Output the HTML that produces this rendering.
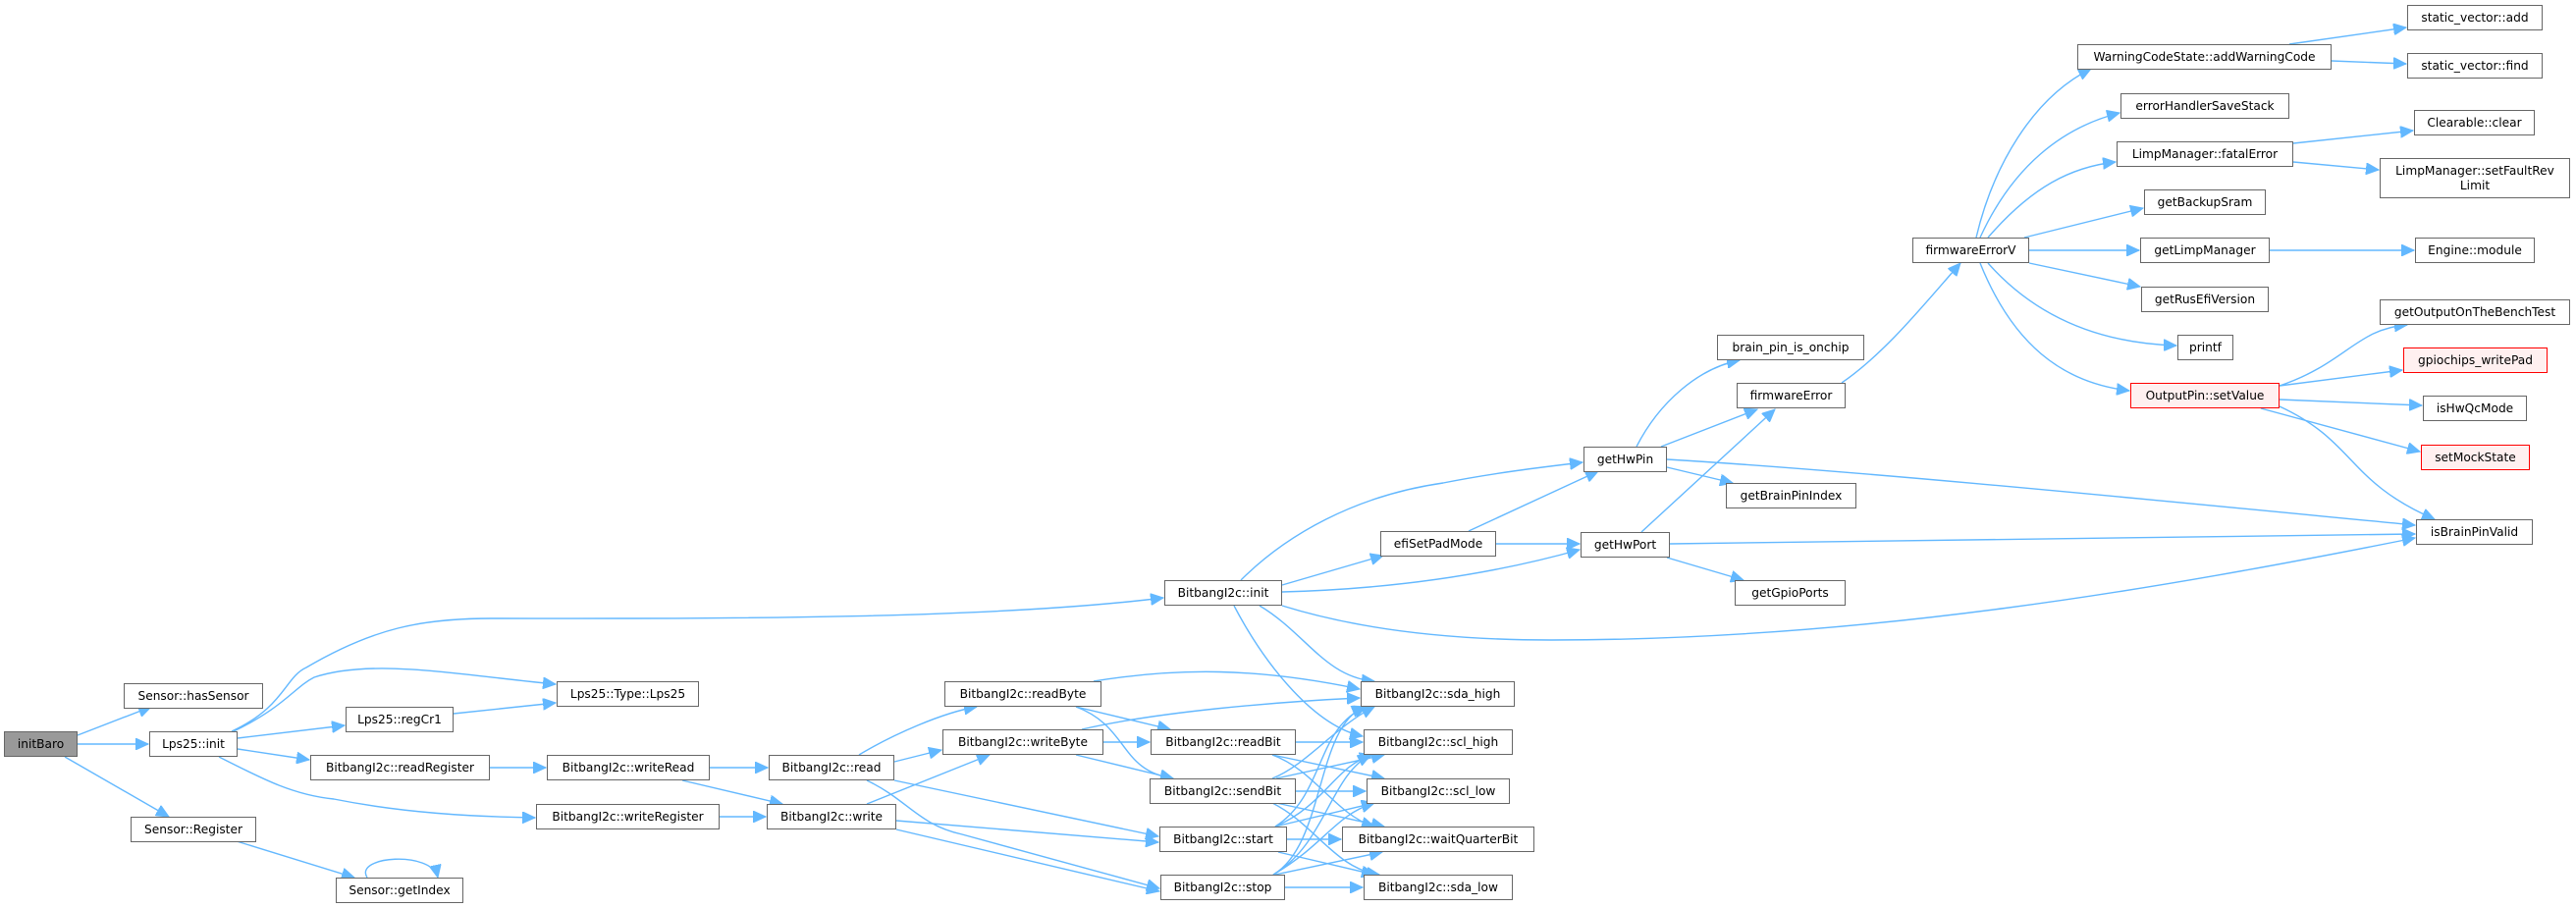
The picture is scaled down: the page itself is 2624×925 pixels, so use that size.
<!DOCTYPE html>
<html><head><meta charset="utf-8"><style>
body{margin:0;background:#fff;}
#c{position:relative;width:2624px;height:925px;overflow:hidden;background:#fff;}
.n{position:absolute;box-sizing:border-box;border:1.5px solid #666;background:#fff;font-family:"DejaVu Sans","Liberation Sans",sans-serif;font-size:12.2px;color:#000;display:flex;align-items:center;justify-content:center;text-align:center;white-space:nowrap;line-height:15px;}
.g{background:#999;}
.r{border-color:#f00;background:#fff0f0;}
svg{position:absolute;left:0;top:0;}
path{fill:none;stroke:#63b8ff;stroke-width:1.4;}
</style></head><body><div id="c">
<svg width="2624" height="925" viewBox="0 0 2624 925">
<defs><marker id="a" markerUnits="userSpaceOnUse" markerWidth="14" markerHeight="12" refX="13" refY="6" orient="auto"><path d="M0,0 L13,6 L0,12 Z" style="fill:#63b8ff;stroke:#63b8ff;stroke-width:1"/></marker></defs>
<g marker-end="url(#a)">
<path d="M79,749 L154,720"/>
<path d="M79,758 L151,758"/>
<path d="M66,771 L172,832"/>
<path d="M238,745 C290,720 300,700 320,690 C380,670 470,688 566,697"/>
<path d="M236,745 C290,720 290,690 312,680 C380,640 430,630 500,630 C700,630 1000,632 1185,609"/>
<path d="M242,752 L351,739"/>
<path d="M242,763 L315,774"/>
<path d="M223,771 C270,795 300,810 340,814 C410,828 480,832 545,833"/>
<path d="M462,727 L566,716"/>
<path d="M499,782 L556,782"/>
<path d="M241,857 L361,894"/>
<path d="M374,894 C360,872 440,866 446,894"/>
<path d="M723,782 L782,782"/>
<path d="M695,795 L797,819"/>
<path d="M733,832 L780,832"/>
<path d="M875,769 C910,748 960,726 995,720"/>
<path d="M911,776 L959,764"/>
<path d="M911,795 L1180,852"/>
<path d="M883,795 C925,815 935,840 980,850 L1181,905"/>
<path d="M883,819 L1008,769"/>
<path d="M913,836 L1180,858"/>
<path d="M913,845 L1181,908"/>
<path d="M1096,720 L1192,743"/>
<path d="M1096,720 C1150,740 1140,785 1195,793"/>
<path d="M1114,694 C1200,680 1280,680 1385,702"/>
<path d="M1124,756 L1171,756"/>
<path d="M1096,769 L1195,793"/>
<path d="M1102,743 C1180,725 1300,715 1385,711"/>
<path d="M1320,756 L1388,756"/>
<path d="M1296,769 L1410,793"/>
<path d="M1296,769 C1340,785 1360,830 1400,842"/>
<path d="M1296,793 C1330,780 1360,740 1400,720"/>
<path d="M1300,793 L1410,769"/>
<path d="M1320,806 L1391,806"/>
<path d="M1300,818 L1410,842"/>
<path d="M1296,818 C1340,840 1360,885 1405,891"/>
<path d="M1299,842 C1350,810 1340,740 1392,720"/>
<path d="M1299,842 C1350,820 1360,780 1398,769"/>
<path d="M1299,842 L1400,818"/>
<path d="M1311,855 L1366,855"/>
<path d="M1302,868 L1400,891"/>
<path d="M1297,891 C1350,860 1340,740 1390,720"/>
<path d="M1297,891 C1350,860 1355,790 1396,769"/>
<path d="M1297,891 C1350,860 1360,830 1400,818"/>
<path d="M1299,891 L1408,868"/>
<path d="M1309,904 L1388,904"/>
<path d="M1306,596 L1409,566"/>
<path d="M1264,591 C1310,545 1380,505 1470,492 C1520,482 1570,476 1612,471"/>
<path d="M1306,603 C1420,600 1520,585 1609,560"/>
<path d="M1306,617 C1380,640 1470,652 1580,652 C1900,652 2200,600 2460,548"/>
<path d="M1283,617 C1330,645 1350,690 1400,694"/>
<path d="M1257,617 C1290,680 1340,740 1388,750"/>
<path d="M1496,541 L1628,480"/>
<path d="M1524,554 L1609,554"/>
<path d="M1667,455 C1690,410 1730,375 1772,367"/>
<path d="M1692,455 L1790,417"/>
<path d="M1698,476 L1765,492"/>
<path d="M1698,468 C1900,480 2200,510 2460,535"/>
<path d="M1672,542 L1808,417"/>
<path d="M1701,554 L2460,544"/>
<path d="M1698,568 L1776,591"/>
<path d="M1876,390 C1920,360 1960,310 1997,268"/>
<path d="M2013,242 C2030,170 2070,100 2130,70"/>
<path d="M2017,242 C2050,170 2100,130 2159,115"/>
<path d="M2025,242 C2070,190 2110,170 2155,165"/>
<path d="M2062,242 L2183,212"/>
<path d="M2067,255 L2179,255"/>
<path d="M2067,268 L2180,292"/>
<path d="M2025,268 C2080,330 2150,350 2217,352"/>
<path d="M2017,268 C2050,350 2100,390 2169,398"/>
<path d="M2332,45 L2451,28"/>
<path d="M2375,62 L2451,65"/>
<path d="M2336,146 L2458,133"/>
<path d="M2336,165 L2423,173"/>
<path d="M2312,255 L2459,255"/>
<path d="M2322,393 C2390,370 2400,335 2452,331"/>
<path d="M2322,393 L2447,377"/>
<path d="M2322,407 L2467,413"/>
<path d="M2303,416 L2465,460"/>
<path d="M2322,414 C2400,450 2390,490 2480,529"/>
</g></svg>
<div class="n g" style="left:4px;top:745px;width:75px;height:26px">initBaro</div>
<div class="n" style="left:126px;top:696px;width:142px;height:26px">Sensor::hasSensor</div>
<div class="n" style="left:152px;top:745px;width:90px;height:26px">Lps25::init</div>
<div class="n" style="left:133px;top:832px;width:128px;height:26px">Sensor::Register</div>
<div class="n" style="left:342px;top:894px;width:130px;height:26px">Sensor::getIndex</div>
<div class="n" style="left:352px;top:720px;width:110px;height:26px">Lps25::regCr1</div>
<div class="n" style="left:316px;top:769px;width:183px;height:26px">BitbangI2c::readRegister</div>
<div class="n" style="left:567px;top:694px;width:145px;height:26px">Lps25::Type::Lps25</div>
<div class="n" style="left:557px;top:769px;width:166px;height:26px">BitbangI2c::writeRead</div>
<div class="n" style="left:546px;top:819px;width:187px;height:26px">BitbangI2c::writeRegister</div>
<div class="n" style="left:783px;top:769px;width:128px;height:26px">BitbangI2c::read</div>
<div class="n" style="left:781px;top:819px;width:132px;height:26px">BitbangI2c::write</div>
<div class="n" style="left:962px;top:694px;width:160px;height:26px">BitbangI2c::readByte</div>
<div class="n" style="left:960px;top:743px;width:164px;height:26px">BitbangI2c::writeByte</div>
<div class="n" style="left:1172px;top:743px;width:148px;height:26px">BitbangI2c::readBit</div>
<div class="n" style="left:1171px;top:793px;width:149px;height:26px">BitbangI2c::sendBit</div>
<div class="n" style="left:1181px;top:842px;width:130px;height:26px">BitbangI2c::start</div>
<div class="n" style="left:1182px;top:891px;width:127px;height:26px">BitbangI2c::stop</div>
<div class="n" style="left:1386px;top:694px;width:157px;height:26px">BitbangI2c::sda_high</div>
<div class="n" style="left:1389px;top:743px;width:152px;height:26px">BitbangI2c::scl_high</div>
<div class="n" style="left:1392px;top:793px;width:146px;height:26px">BitbangI2c::scl_low</div>
<div class="n" style="left:1367px;top:842px;width:196px;height:26px">BitbangI2c::waitQuarterBit</div>
<div class="n" style="left:1389px;top:891px;width:152px;height:26px">BitbangI2c::sda_low</div>
<div class="n" style="left:1186px;top:591px;width:120px;height:26px">BitbangI2c::init</div>
<div class="n" style="left:1406px;top:541px;width:118px;height:26px">efiSetPadMode</div>
<div class="n" style="left:1613px;top:455px;width:85px;height:26px">getHwPin</div>
<div class="n" style="left:1610px;top:542px;width:91px;height:26px">getHwPort</div>
<div class="n" style="left:1749px;top:341px;width:150px;height:26px">brain_pin_is_onchip</div>
<div class="n" style="left:1769px;top:390px;width:111px;height:26px">firmwareError</div>
<div class="n" style="left:1758px;top:492px;width:133px;height:26px">getBrainPinIndex</div>
<div class="n" style="left:1767px;top:591px;width:113px;height:26px">getGpioPorts</div>
<div class="n" style="left:1948px;top:242px;width:119px;height:26px">firmwareErrorV</div>
<div class="n" style="left:2116px;top:45px;width:259px;height:26px">WarningCodeState::addWarningCode</div>
<div class="n" style="left:2160px;top:95px;width:172px;height:26px">errorHandlerSaveStack</div>
<div class="n" style="left:2156px;top:144px;width:180px;height:26px">LimpManager::fatalError</div>
<div class="n" style="left:2184px;top:193px;width:124px;height:26px">getBackupSram</div>
<div class="n" style="left:2180px;top:242px;width:132px;height:26px">getLimpManager</div>
<div class="n" style="left:2181px;top:292px;width:130px;height:26px">getRusEfiVersion</div>
<div class="n" style="left:2218px;top:341px;width:57px;height:26px">printf</div>
<div class="n r" style="left:2170px;top:390px;width:152px;height:26px">OutputPin::setValue</div>
<div class="n" style="left:2452px;top:5px;width:138px;height:26px">static_vector::add</div>
<div class="n" style="left:2452px;top:54px;width:138px;height:26px">static_vector::find</div>
<div class="n" style="left:2459px;top:112px;width:123px;height:26px">Clearable::clear</div>
<div class="n" style="left:2424px;top:161px;width:194px;height:41px">LimpManager::setFaultRev<br>Limit</div>
<div class="n" style="left:2460px;top:242px;width:122px;height:26px">Engine::module</div>
<div class="n" style="left:2424px;top:305px;width:194px;height:26px">getOutputOnTheBenchTest</div>
<div class="n r" style="left:2448px;top:354px;width:147px;height:26px">gpiochips_writePad</div>
<div class="n" style="left:2468px;top:403px;width:106px;height:26px">isHwQcMode</div>
<div class="n r" style="left:2466px;top:453px;width:111px;height:26px">setMockState</div>
<div class="n" style="left:2461px;top:529px;width:119px;height:26px">isBrainPinValid</div>
</div></body></html>
